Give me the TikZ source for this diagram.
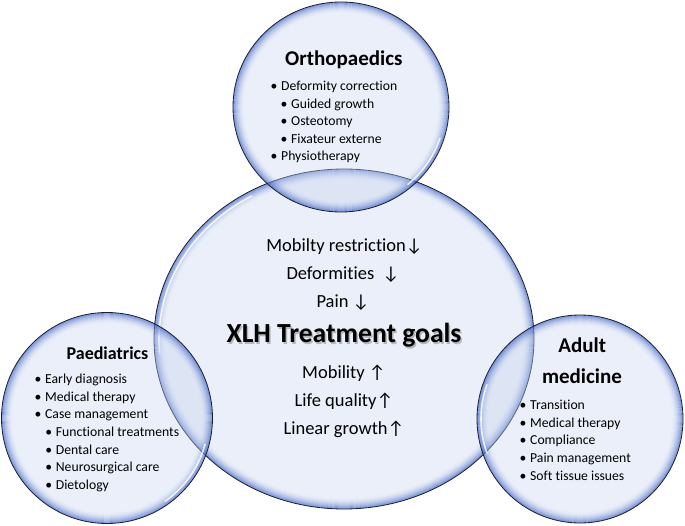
\documentclass[tikz,border=0pt]{standalone}
\usepackage{fontspec}
\setmainfont{Carlito}[Ligatures=CommonOff]
\definecolor{bin}{RGB}{200,213,240}
\definecolor{bout}{RGB}{40,80,190}
\definecolor{edgec}{RGB}{25,30,50}
\newcommand{\bul}{\makebox[10.5bp][l]{•}}
\newcommand{\mybubble}[4]{%
  \fill[bin, fill opacity=0.38] (#1,#2) ellipse [x radius=#3bp, y radius=#4bp];
  \begin{scope}
    \clip (#1,#2) ellipse [x radius=#3bp, y radius=#4bp];
    \foreach \i in {0,...,10}{
      \pgfmathsetmacro{\myop}{0.5*(1-\i/11)^2}
      \pgfmathsetmacro{\myrx}{#3-0.6-\i*1.0}
      \pgfmathsetmacro{\myry}{#4-0.6-\i*1.0}
      \draw[bout, line width=1.15bp, opacity=\myop] (#1,#2) ellipse [x radius=\myrx bp, y radius=\myry bp];
    }
  \end{scope}
  \draw[rimline] (#1,#2) ellipse [x radius=#3bp, y radius=#4bp];
}
\begin{document}
\begin{tikzpicture}[x=1bp,y=-1bp,
  item/.style={anchor=base west, inner sep=0pt, font=\fontsize{13.7bp}{16bp}\selectfont},
  head/.style={anchor=base, inner sep=0pt, font=\bfseries\fontsize{21bp}{24bp}\selectfont},
  goal/.style={anchor=base, inner sep=0pt, font=\fontsize{18.5bp}{22bp}\selectfont},
  rimline/.style={draw=edgec, line width=0.8bp},
  gloss/.style={draw=white, line width=1.6bp, opacity=0.8, line cap=round}]
\useasboundingbox (0,0) rectangle (685,526);
\fill[white] (0,0) rectangle (685,526);
% central ellipse
\mybubble{344}{339}{190}{170}
\draw[gloss] (344,339) ++(120:185bp and 165bp) arc[start angle=120, end angle=185, x radius=185bp, y radius=165bp];
% top circle
\mybubble{341}{107}{108}{105}
\draw[gloss] (341,107) ++(-50:104bp and 101bp) arc[start angle=-50, end angle=-18, x radius=104bp, y radius=101bp];
% left circle
\mybubble{107}{418}{105.5}{105.5}
\draw[gloss] (107,418) ++(-55:101.5bp) arc[start angle=-55, end angle=-15, radius=101.5bp];
% right circle
\mybubble{580}{419}{103}{104}
\draw[gloss] (580,419) ++(160:99bp and 100bp) arc[start angle=160, end angle=200, x radius=99bp, y radius=100bp];

% Orthopaedics
\node[head] (oh) at (343.8,65.3) {Orthopaedics};
\node[item] (o1) at (270.5,91) {\bul Deformity correction};
\node[item] (o2) at (280.5,108.5) {\bul Guided growth};
\node[item] (o3) at (280.5,126) {\bul Osteotomy};
\node[item] (o4) at (280.5,143.5) {\bul Fixateur externe};
\node[item] (o5) at (270.5,161) {\bul Physiotherapy};

% Paediatrics
\node[head, font=\bfseries\fontsize{18bp}{21bp}\selectfont] (ph) at (107.5,359) {Paediatrics};
\node[item] (p1) at (34.5,383.3) {\bul Early diagnosis};
\node[item] (p2) at (34.5,401) {\bul Medical therapy};
\node[item] (p3) at (34.5,418.7) {\bul Case management};
\node[item] (p4) at (45.2,436.3) {\bul Functional treatments};
\node[item] (p5) at (45.2,454) {\bul Dental care};
\node[item] (p6) at (45.2,471.7) {\bul Neurosurgical care};
\node[item] (p7) at (45.2,489.3) {\bul Dietology};

% Adult medicine
\node[head] (ah1) at (582.3,352.3) {Adult};
\node[head] (ah2) at (582,383.3) {medicine};
\node[item] (a1) at (519.5,409.3) {\bul Transition};
\node[item] (a2) at (519.5,427) {\bul Medical therapy};
\node[item] (a3) at (519.5,444.8) {\bul Compliance};
\node[item] (a4) at (519.5,462.6) {\bul Pain management};
\node[item] (a5) at (519.5,480.3) {\bul Soft tissue issues};

% Central goals
\node[goal] (g1) at (344.5,251.7) {Mobilty restriction↓};
\node[goal] (g2) at (343,279.3) {Deformities\ \ ↓};
\node[goal] (g3) at (343,307.3) {Pain ↓};
\node[anchor=base, inner sep=0pt, font=\bfseries\fontsize{27.6bp}{32bp}\selectfont, text=black!50, opacity=0.5] (tsh) at (345.5,344.2) {XLH Treatment goals};
\node[anchor=base, inner sep=0pt, font=\bfseries\fontsize{27.6bp}{32bp}\selectfont] (title) at (344,342.7) {XLH Treatment goals};
\node[goal] (g4) at (344,378.3) {Mobility ↑};
\node[goal] (g5) at (344,406) {Life quality↑};
\node[goal] (g6) at (344,434) {Linear growth↑};
\end{tikzpicture}
\end{document}
